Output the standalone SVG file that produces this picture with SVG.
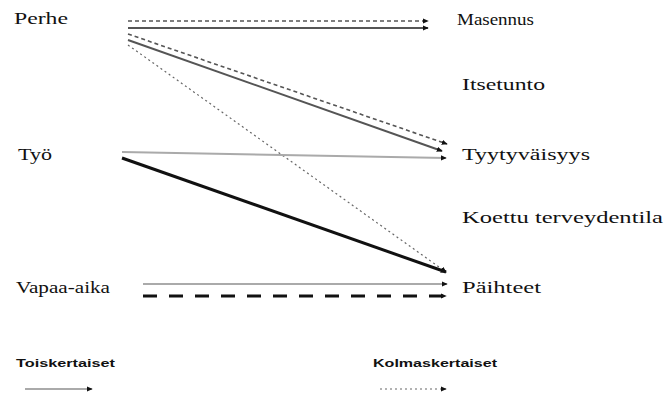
<svg xmlns="http://www.w3.org/2000/svg" width="665" height="395" viewBox="0 0 665 395">
<defs>
<marker id="ah" viewBox="0 0 8 8" refX="7" refY="4" markerWidth="6" markerHeight="6" markerUnits="userSpaceOnUse" orient="auto">
<path d="M0,0.5 L8,4 L0,7.5 Z" fill="#111"/>
</marker>
</defs>
<style>
.c{fill:none}
.solid{stroke:#555;stroke-width:2}
.gray{stroke:#aaa;stroke-width:2}
.dash{stroke:#555;stroke-width:1.6;stroke-dasharray:4,3}
.dot{stroke:#666;stroke-width:1.2;stroke-dasharray:2,3}
.thick{stroke:#111;stroke-width:3}
.tdash{stroke:#111;stroke-width:3;stroke-dasharray:14,12}
</style>
<rect width="665" height="395" fill="#fff"/>
<g id="connectors">
<line class="c dash" x1="128" y1="21" x2="428" y2="21" marker-end="url(#ah)"/>
<line class="c solid" x1="128" y1="28" x2="428" y2="28" marker-end="url(#ah)"/>
<line class="c dash" x1="128" y1="34" x2="447" y2="144" marker-end="url(#ah)"/>
<line class="c solid" x1="128" y1="40" x2="442" y2="151" marker-end="url(#ah)"/>
<line class="c dot" x1="128" y1="45" x2="446" y2="272" marker-end="url(#ah)"/>
<line class="c gray" x1="122" y1="152" x2="446" y2="158" marker-end="url(#ah)"/>
<line class="c thick" x1="122" y1="158" x2="446" y2="272" marker-end="url(#ah)"/>
<line class="c gray" x1="143" y1="284" x2="447" y2="284" marker-end="url(#ah)"/>
<line class="c tdash" x1="143" y1="296" x2="446" y2="296" marker-end="url(#ah)"/>
</g>
<g font-family="'Liberation Serif', 'Times New Roman', serif" font-size="17" fill="#111">
<g id="perhe"><text x="14" y="24" textLength="54" lengthAdjust="spacingAndGlyphs">Perhe</text></g>
<g id="tyo"><text x="18" y="160" textLength="34" lengthAdjust="spacingAndGlyphs">Työ</text></g>
<g id="vapaa-aika"><text x="16" y="293" textLength="94" lengthAdjust="spacingAndGlyphs">Vapaa-aika</text></g>
<g id="masennus"><text x="457" y="25" textLength="77" lengthAdjust="spacingAndGlyphs">Masennus</text></g>
<g id="itsetunto"><text x="462" y="90" textLength="83" lengthAdjust="spacingAndGlyphs">Itsetunto</text></g>
<g id="tyytyvaisyys"><text x="462" y="160" textLength="128" lengthAdjust="spacingAndGlyphs">Tyytyväisyys</text></g>
<g id="koettu"><text x="462" y="223" textLength="201" lengthAdjust="spacingAndGlyphs">Koettu terveydentila</text></g>
<g id="paihteet"><text x="462" y="293" textLength="79" lengthAdjust="spacingAndGlyphs">Päihteet</text></g>
</g>
<g id="legend" font-family="'Liberation Sans', Arial, sans-serif" font-size="11" font-weight="bold" fill="#111">
<text x="16" y="367" textLength="99" lengthAdjust="spacingAndGlyphs">Toiskertaiset</text>
<line class="c gray" x1="25" y1="389" x2="92" y2="389" marker-end="url(#ah)"/>
<text x="373" y="367" textLength="124" lengthAdjust="spacingAndGlyphs">Kolmaskertaiset</text>
<line class="c dot" x1="380" y1="389" x2="446" y2="389" marker-end="url(#ah)"/>
</g>
</svg>
